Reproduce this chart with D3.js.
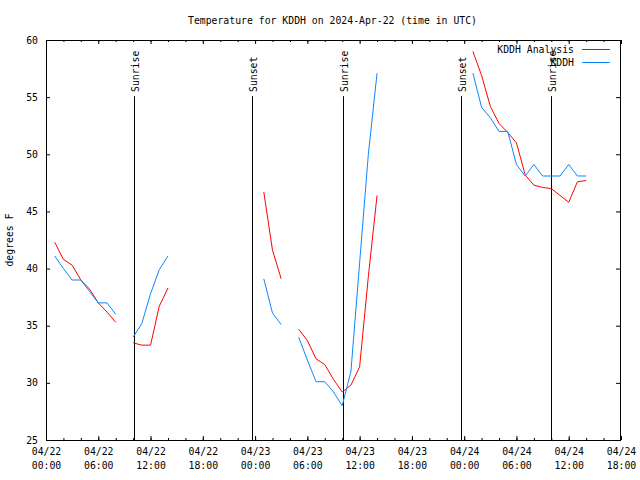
<!DOCTYPE html>
<html><head><meta charset="utf-8">
<script src="https://cdn.jsdelivr.net/npm/d3@7"></script>
<style>
body{margin:0;background:#fff}
text{font-family:"DejaVu Sans Mono","Liberation Mono",monospace;font-size:9.8px;fill:#000}
</style>
</head><body>
<svg id="c" width="640" height="480"></svg>
<script>
// ---- data (hours after 2024-04-22 00:00 UTC) ----
const hours = [1,2,3,4,5,6,7,8,9,10,11,12,13,14,15,16,17,18,19,20,21,22,23,24,25,26,27,28,29,30,31,32,33,34,35,36,37,38,39,40,41,42,43,44,45,46,47,48,49,50,51,52,53,54,55,56,57,58,59,60,61,62];
const analysis = [42.3,40.8,40.3,39.0,38.2,37.0,36.2,35.3,null,33.5,33.3,33.3,36.7,38.3,
  null,null,null,null,null,null,null,null,null,null,
  46.7,41.6,39.1,null,34.7,33.7,32.1,31.6,30.3,29.2,29.8,31.4,39.3,46.4,
  null,null,null,null,null,null,null,null,null,null,
  59.0,56.9,54.2,52.7,51.9,51.0,48.2,47.3,47.1,47.0,46.4,45.8,47.6,47.7];
const observed = [41.1,40.0,39.0,39.0,38.0,37.0,37.0,36.0,null,34.0,35.2,37.8,39.9,41.1,
  null,null,null,null,null,null,null,null,null,null,
  39.1,36.1,35.1,null,34.0,32.0,30.1,30.1,29.2,28.0,31.0,40.5,50.0,57.1,
  null,null,null,null,null,null,null,null,null,null,
  57.1,54.1,53.2,52.0,52.0,49.1,48.1,49.1,48.1,48.1,48.1,49.1,48.1,48.1];
const sunLabels = ["Sunrise","Sunset","Sunrise","Sunset","Sunrise"];
const sunHours = [10.13,23.67,34.11,47.65,57.98];
const sunTopValue = 55;
const yTicks = [25,30,35,40,45,50,55,60];
const seriesNames = ["KDDH Analysis","KDDH"];
const seriesColors = ["#ff0000","#0a87ff"];
const titleText = "Temperature for KDDH on 2024-Apr-22 (time in UTC)";
const yLabel = "degrees F";

// ---- setup ----
const t0 = Date.UTC(2024,3,22,0,0);
const toDate = h => new Date(t0 + h*3600e3);
const svg = d3.select("#c");
const L=46, R=621, T=40, B=440;
const x = d3.scaleUtc().domain([toDate(0), toDate(66)]).range([L,R]);
const y = d3.scaleLinear().domain([25,60]).range([B,T]);

// frame
svg.append("rect").attr("x",L+0.5).attr("y",T+0.5).attr("width",R-L-1).attr("height",B-T)
  .attr("fill","none").attr("stroke","#000").attr("stroke-width",1);

const majorTicks = d3.utcHour.every(6).range(toDate(0), toDate(66.01));
const minorTicks = d3.utcHour.every(2).range(toDate(0), toDate(66.01));
const fmtD = d3.utcFormat("%m/%d"), fmtT = d3.utcFormat("%H:%M");

// x axes
const gxMinor = svg.append("g").attr("transform",`translate(0,${B})`)
  .call(d3.axisBottom(x).tickValues(minorTicks).tickSizeInner(-2).tickSizeOuter(0).tickFormat(""));
const gxMinorTop = svg.append("g").attr("transform",`translate(0,${T})`)
  .call(d3.axisTop(x).tickValues(minorTicks).tickSizeInner(-2).tickSizeOuter(0).tickFormat(""));
const gx = svg.append("g").attr("transform",`translate(0,${B})`)
  .call(d3.axisBottom(x).tickValues(majorTicks).tickSizeInner(-4).tickSizeOuter(0).tickPadding(8));
const gxTop = svg.append("g").attr("transform",`translate(0,${T})`)
  .call(d3.axisTop(x).tickValues(majorTicks).tickSizeInner(-4).tickSizeOuter(0).tickFormat(""));
gx.selectAll(".tick text").each(function(d){
  const t = d3.select(this).text("").attr("dy",null).attr("y",null);
  t.append("tspan").attr("x",0).attr("y",15).text(fmtD(d));
  t.append("tspan").attr("x",0).attr("y",29).text(fmtT(d));
});

// y axes
const gy = svg.append("g").attr("transform",`translate(${L},0)`)
  .call(d3.axisLeft(y).tickValues(yTicks).tickSizeInner(-4).tickSizeOuter(0).tickPadding(8).tickFormat(d3.format("d")));
const gyR = svg.append("g").attr("transform",`translate(${R-1},0)`)
  .call(d3.axisRight(y).tickValues(yTicks).tickSizeInner(-4).tickSizeOuter(0).tickFormat(""));
svg.selectAll(".domain").remove();
svg.selectAll(".tick line").attr("stroke","#000");
svg.selectAll(".tick text").attr("font-family",null).attr("font-size",null).attr("fill","#000");

// sun events
sunHours.forEach((h,i)=>{
  const sx = Math.round(x(toDate(h)))+0.5;
  svg.append("line").attr("x1",sx).attr("x2",sx).attr("y1",B).attr("y2",y(sunTopValue)-1)
    .attr("stroke","#000").attr("stroke-width",1);
  svg.append("text").attr("transform",`translate(${sx+4},92) rotate(-90)`).text(sunLabels[i]);
});

// series
const line = d3.line().defined(d=>d[1]!=null).x(d=>x(toDate(d[0]))).y(d=>y(d[1]));
[analysis, observed].forEach((vals,i)=>{
  svg.append("path").datum(hours.map((h,j)=>[h,vals[j]]))
    .attr("d",line).attr("fill","none").attr("stroke",seriesColors[i]).attr("stroke-width",1);
});

// legend
seriesNames.forEach((n,i)=>{
  const ly = 49.5 + i*13;
  svg.append("text").attr("x",574).attr("y",ly+3.5).attr("text-anchor","end").text(n);
  svg.append("line").attr("x1",582).attr("x2",610).attr("y1",ly).attr("y2",ly)
    .attr("stroke",seriesColors[i]).attr("stroke-width",1);
});

// title & y label
svg.append("text").attr("x",332.5).attr("y",24).attr("text-anchor","middle").text(titleText);
svg.append("text").attr("transform","translate(13,240) rotate(-90)").attr("text-anchor","middle").text(yLabel);
</script>
</body></html>
